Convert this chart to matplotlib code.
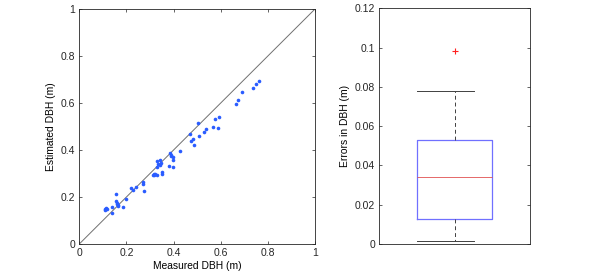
import matplotlib
matplotlib.use("Agg")
import matplotlib.pyplot as plt

plt.rcParams['font.family'] = ['Liberation Sans', 'DejaVu Sans']

# measured vs estimated DBH (m)
measured = [0.107, 0.112, 0.117, 0.110, 0.137, 0.139, 0.157, 0.155, 0.158, 0.161,
            0.164, 0.165, 0.187, 0.197, 0.220, 0.226, 0.240, 0.270, 0.271, 0.276,
            0.311, 0.315, 0.319, 0.323, 0.328, 0.330, 0.331, 0.336, 0.341, 0.345,
            0.343, 0.352, 0.353, 0.381, 0.385, 0.389, 0.391, 0.399, 0.399, 0.399,
            0.429, 0.468, 0.475, 0.484, 0.486, 0.505, 0.508, 0.530, 0.539, 0.569,
            0.587, 0.577, 0.594, 0.664, 0.673, 0.691, 0.737, 0.751, 0.762]
estimated = [0.145, 0.154, 0.151, 0.149, 0.156, 0.131, 0.211, 0.184, 0.175, 0.170,
             0.167, 0.160, 0.157, 0.191, 0.237, 0.228, 0.243, 0.264, 0.257, 0.225,
             0.295, 0.297, 0.293, 0.296, 0.295, 0.353, 0.327, 0.340, 0.357, 0.345,
             0.338, 0.305, 0.300, 0.332, 0.387, 0.380, 0.376, 0.370, 0.356, 0.326,
             0.394, 0.468, 0.438, 0.447, 0.423, 0.514, 0.458, 0.477, 0.489, 0.497,
             0.492, 0.533, 0.542, 0.594, 0.613, 0.648, 0.662, 0.681, 0.694]

# error box plot stats
err_low = 0.0013
err_q1 = 0.0125
err_med = 0.034
err_q3 = 0.053
err_high = 0.078
err_outliers = [0.098]

fig = plt.figure(figsize=(5.98, 2.76), dpi=100)
ax1 = fig.add_axes([0.1326, 0.116, 0.394, 0.851])
ax2 = fig.add_axes([0.634, 0.116, 0.2525, 0.854])

ax1.plot([0, 1], [0, 1], color='#707070', lw=0.7)
ax1.plot(measured, estimated, 'o', color='#2a5cff', ms=2.6, mew=0)
ax1.set_xlim(0, 1)
ax1.set_ylim(0, 1)
ax1.set_xticks([0, 0.2, 0.4, 0.6, 0.8, 1])
ax1.set_yticks([0, 0.2, 0.4, 0.6, 0.8, 1])
ax1.set_xticklabels(['0', '0.2', '0.4', '0.6', '0.8', '1'])
ax1.set_yticklabels(['0', '0.2', '0.4', '0.6', '0.8', '1'])
ax1.set_xlabel('Measured DBH (m)', fontsize=7.4, labelpad=2)
ax1.set_ylabel('Estimated DBH (m)', fontsize=7.4, labelpad=3)

stats = [dict(whislo=err_low, q1=err_q1, med=err_med, q3=err_q3,
              whishi=err_high, fliers=err_outliers)]
bp = ax2.bxp(stats, positions=[1], widths=0.5, showfliers=False,
             boxprops=dict(color='#7070ff', lw=0.9),
             medianprops=dict(color='#e05050', lw=0.6),
             whiskerprops=dict(color='#404040', lw=0.7, linestyle=(0, (4, 3))),
             capprops=dict(color='#404040', lw=0.7))
for cap in bp['caps']:
    cap.set_xdata([1 - 0.25, 1 + 0.125])
ax2.plot([1] * len(err_outliers), err_outliers, '+', color='#ff2020',
         ms=4.5, mew=0.8)
ax2.set_xlim(0.5, 1.5)
ax2.set_ylim(0, 0.12)
ax2.set_xticks([])
ax2.set_yticks([0, 0.02, 0.04, 0.06, 0.08, 0.1, 0.12])
ax2.set_yticklabels(['0', '0.02', '0.04', '0.06', '0.08', '0.1', '0.12'])
ax2.set_ylabel('Errors in DBH (m)', fontsize=7.4, labelpad=3)

for ax in (ax1, ax2):
    ax.tick_params(direction='in', length=2.5, width=0.5, labelsize=7.5,
                   top=True, right=True, colors='#262626', pad=3)
    for s in ax.spines.values():
        s.set_linewidth(0.6)
        s.set_color('#262626')
ax2.tick_params(axis='x', top=False, bottom=False)

fig.savefig('out.png', dpi=100)
